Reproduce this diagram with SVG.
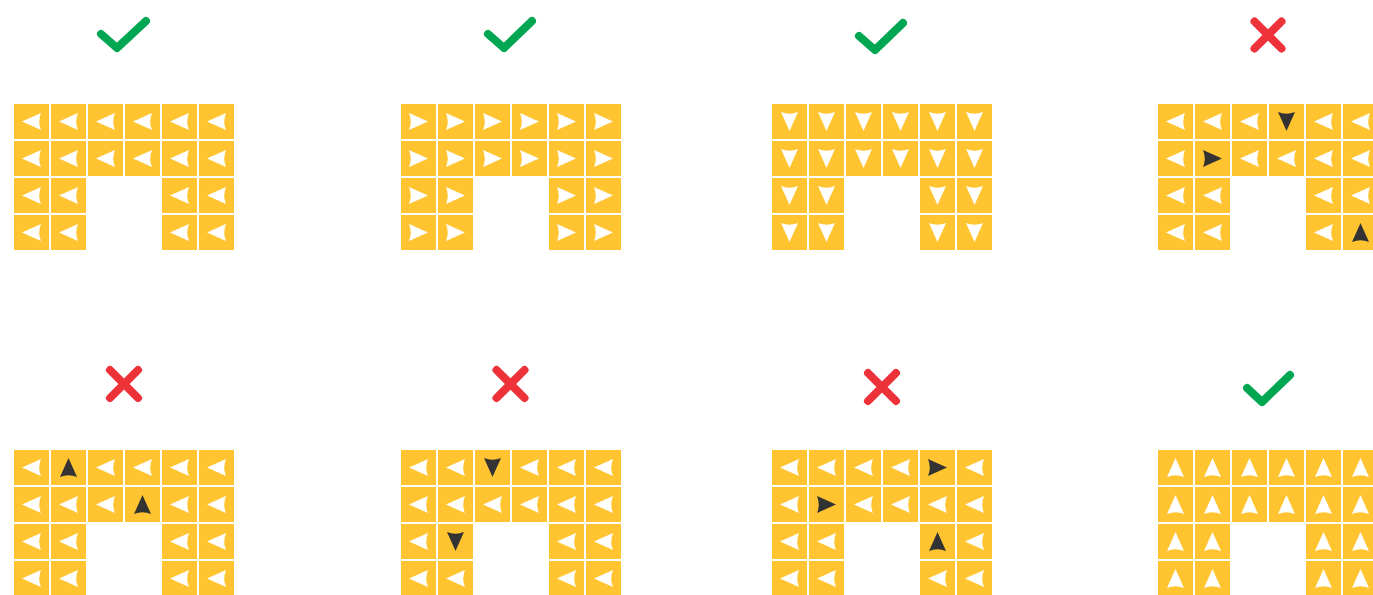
<svg xmlns="http://www.w3.org/2000/svg" xmlns:xlink="http://www.w3.org/1999/xlink" width="1373" height="595" viewBox="0 0 1373 595">
<style>
.sq{fill:#FFC430}
.w{fill:#FFFFFF}
.k{fill:#333333}
.ok{fill:none;stroke:#00A651;stroke-width:8;stroke-linecap:round;stroke-linejoin:round}
.no{fill:none;stroke:#EE3239;stroke-width:8;stroke-linecap:round}
</style>
<defs>
<path id="aL" d="M8,17.5 L27,9 Q23.5,17.5 27,26 Z"/>
<g id="wL"><rect class="sq" width="35" height="35"/><use href="#aL" class="w"/></g>
<g id="wR"><rect class="sq" width="35" height="35"/><use href="#aL" class="w" transform="rotate(180 17.5 17.5)"/></g>
<g id="wU"><rect class="sq" width="35" height="35"/><use href="#aL" class="w" transform="rotate(90 17.5 17.5)"/></g>
<g id="wD"><rect class="sq" width="35" height="35"/><use href="#aL" class="w" transform="rotate(-90 17.5 17.5)"/></g>
<g id="kR"><rect class="sq" width="35" height="35"/><use href="#aL" class="k" transform="rotate(180 17.5 17.5)"/></g>
<g id="kU"><rect class="sq" width="35" height="35"/><use href="#aL" class="k" transform="rotate(90 17.5 17.5)"/></g>
<g id="kD"><rect class="sq" width="35" height="35"/><use href="#aL" class="k" transform="rotate(-90 17.5 17.5)"/></g>
</defs>

<g id="panel1">
<path class="ok" d="M101,34 L117,48 L146,21"/>
<g transform="translate(14,104)">
<use href="#wL" x="0" y="0"/><use href="#wL" x="37" y="0"/><use href="#wL" x="74" y="0"/><use href="#wL" x="111" y="0"/><use href="#wL" x="148" y="0"/><use href="#wL" x="185" y="0"/>
<use href="#wL" x="0" y="37"/><use href="#wL" x="37" y="37"/><use href="#wL" x="74" y="37"/><use href="#wL" x="111" y="37"/><use href="#wL" x="148" y="37"/><use href="#wL" x="185" y="37"/>
<use href="#wL" x="0" y="74"/><use href="#wL" x="37" y="74"/><use href="#wL" x="148" y="74"/><use href="#wL" x="185" y="74"/>
<use href="#wL" x="0" y="111"/><use href="#wL" x="37" y="111"/><use href="#wL" x="148" y="111"/><use href="#wL" x="185" y="111"/>
</g>
</g>

<g id="panel2">
<path class="ok" d="M488,34 L504,48 L532,21"/>
<g transform="translate(401,104)">
<use href="#wR" x="0" y="0"/><use href="#wR" x="37" y="0"/><use href="#wR" x="74" y="0"/><use href="#wR" x="111" y="0"/><use href="#wR" x="148" y="0"/><use href="#wR" x="185" y="0"/>
<use href="#wR" x="0" y="37"/><use href="#wR" x="37" y="37"/><use href="#wR" x="74" y="37"/><use href="#wR" x="111" y="37"/><use href="#wR" x="148" y="37"/><use href="#wR" x="185" y="37"/>
<use href="#wR" x="0" y="74"/><use href="#wR" x="37" y="74"/><use href="#wR" x="148" y="74"/><use href="#wR" x="185" y="74"/>
<use href="#wR" x="0" y="111"/><use href="#wR" x="37" y="111"/><use href="#wR" x="148" y="111"/><use href="#wR" x="185" y="111"/>
</g>
</g>

<g id="panel3">
<path class="ok" d="M859,36 L875,50 L903,23"/>
<g transform="translate(772,104)">
<use href="#wD" x="0" y="0"/><use href="#wD" x="37" y="0"/><use href="#wD" x="74" y="0"/><use href="#wD" x="111" y="0"/><use href="#wD" x="148" y="0"/><use href="#wD" x="185" y="0"/>
<use href="#wD" x="0" y="37"/><use href="#wD" x="37" y="37"/><use href="#wD" x="74" y="37"/><use href="#wD" x="111" y="37"/><use href="#wD" x="148" y="37"/><use href="#wD" x="185" y="37"/>
<use href="#wD" x="0" y="74"/><use href="#wD" x="37" y="74"/><use href="#wD" x="148" y="74"/><use href="#wD" x="185" y="74"/>
<use href="#wD" x="0" y="111"/><use href="#wD" x="37" y="111"/><use href="#wD" x="148" y="111"/><use href="#wD" x="185" y="111"/>
</g>
</g>

<g id="panel4">
<path class="no" d="M1254.5,21.5 L1281.5,48.5 M1281.5,21.5 L1254.5,48.5"/>
<g transform="translate(1158,104)">
<use href="#wL" x="0" y="0"/><use href="#wL" x="37" y="0"/><use href="#wL" x="74" y="0"/><use href="#kD" x="111" y="0"/><use href="#wL" x="148" y="0"/><use href="#wL" x="185" y="0"/>
<use href="#wL" x="0" y="37"/><use href="#kR" x="37" y="37"/><use href="#wL" x="74" y="37"/><use href="#wL" x="111" y="37"/><use href="#wL" x="148" y="37"/><use href="#wL" x="185" y="37"/>
<use href="#wL" x="0" y="74"/><use href="#wL" x="37" y="74"/><use href="#wL" x="148" y="74"/><use href="#wL" x="185" y="74"/>
<use href="#wL" x="0" y="111"/><use href="#wL" x="37" y="111"/><use href="#wL" x="148" y="111"/><use href="#kU" x="185" y="111"/>
</g>
</g>

<g id="panel5">
<path class="no" d="M110,370 L138,398 M138,370 L110,398"/>
<g transform="translate(14,450)">
<use href="#wL" x="0" y="0"/><use href="#kU" x="37" y="0"/><use href="#wL" x="74" y="0"/><use href="#wL" x="111" y="0"/><use href="#wL" x="148" y="0"/><use href="#wL" x="185" y="0"/>
<use href="#wL" x="0" y="37"/><use href="#wL" x="37" y="37"/><use href="#wL" x="74" y="37"/><use href="#kU" x="111" y="37"/><use href="#wL" x="148" y="37"/><use href="#wL" x="185" y="37"/>
<use href="#wL" x="0" y="74"/><use href="#wL" x="37" y="74"/><use href="#wL" x="148" y="74"/><use href="#wL" x="185" y="74"/>
<use href="#wL" x="0" y="111"/><use href="#wL" x="37" y="111"/><use href="#wL" x="148" y="111"/><use href="#wL" x="185" y="111"/>
</g>
</g>

<g id="panel6">
<path class="no" d="M496.5,370 L524.5,398 M524.5,370 L496.5,398"/>
<g transform="translate(401,450)">
<use href="#wL" x="0" y="0"/><use href="#wL" x="37" y="0"/><use href="#kD" x="74" y="0"/><use href="#wL" x="111" y="0"/><use href="#wL" x="148" y="0"/><use href="#wL" x="185" y="0"/>
<use href="#wL" x="0" y="37"/><use href="#wL" x="37" y="37"/><use href="#wL" x="74" y="37"/><use href="#wL" x="111" y="37"/><use href="#wL" x="148" y="37"/><use href="#wL" x="185" y="37"/>
<use href="#wL" x="0" y="74"/><use href="#kD" x="37" y="74"/><use href="#wL" x="148" y="74"/><use href="#wL" x="185" y="74"/>
<use href="#wL" x="0" y="111"/><use href="#wL" x="37" y="111"/><use href="#wL" x="148" y="111"/><use href="#wL" x="185" y="111"/>
</g>
</g>

<g id="panel7">
<path class="no" d="M868,373 L896,401 M896,373 L868,401"/>
<g transform="translate(772,450)">
<use href="#wL" x="0" y="0"/><use href="#wL" x="37" y="0"/><use href="#wL" x="74" y="0"/><use href="#wL" x="111" y="0"/><use href="#kR" x="148" y="0"/><use href="#wL" x="185" y="0"/>
<use href="#wL" x="0" y="37"/><use href="#kR" x="37" y="37"/><use href="#wL" x="74" y="37"/><use href="#wL" x="111" y="37"/><use href="#wL" x="148" y="37"/><use href="#wL" x="185" y="37"/>
<use href="#wL" x="0" y="74"/><use href="#wL" x="37" y="74"/><use href="#kU" x="148" y="74"/><use href="#wL" x="185" y="74"/>
<use href="#wL" x="0" y="111"/><use href="#wL" x="37" y="111"/><use href="#wL" x="148" y="111"/><use href="#wL" x="185" y="111"/>
</g>
</g>

<g id="panel8">
<path class="ok" d="M1247,388 L1262,402 L1290,375"/>
<g transform="translate(1158,450)">
<use href="#wU" x="0" y="0"/><use href="#wU" x="37" y="0"/><use href="#wU" x="74" y="0"/><use href="#wU" x="111" y="0"/><use href="#wU" x="148" y="0"/><use href="#wU" x="185" y="0"/>
<use href="#wU" x="0" y="37"/><use href="#wU" x="37" y="37"/><use href="#wU" x="74" y="37"/><use href="#wU" x="111" y="37"/><use href="#wU" x="148" y="37"/><use href="#wU" x="185" y="37"/>
<use href="#wU" x="0" y="74"/><use href="#wU" x="37" y="74"/><use href="#wU" x="148" y="74"/><use href="#wU" x="185" y="74"/>
<use href="#wU" x="0" y="111"/><use href="#wU" x="37" y="111"/><use href="#wU" x="148" y="111"/><use href="#wU" x="185" y="111"/>
</g>
</g>

<g id="connectors"/>
</svg>
